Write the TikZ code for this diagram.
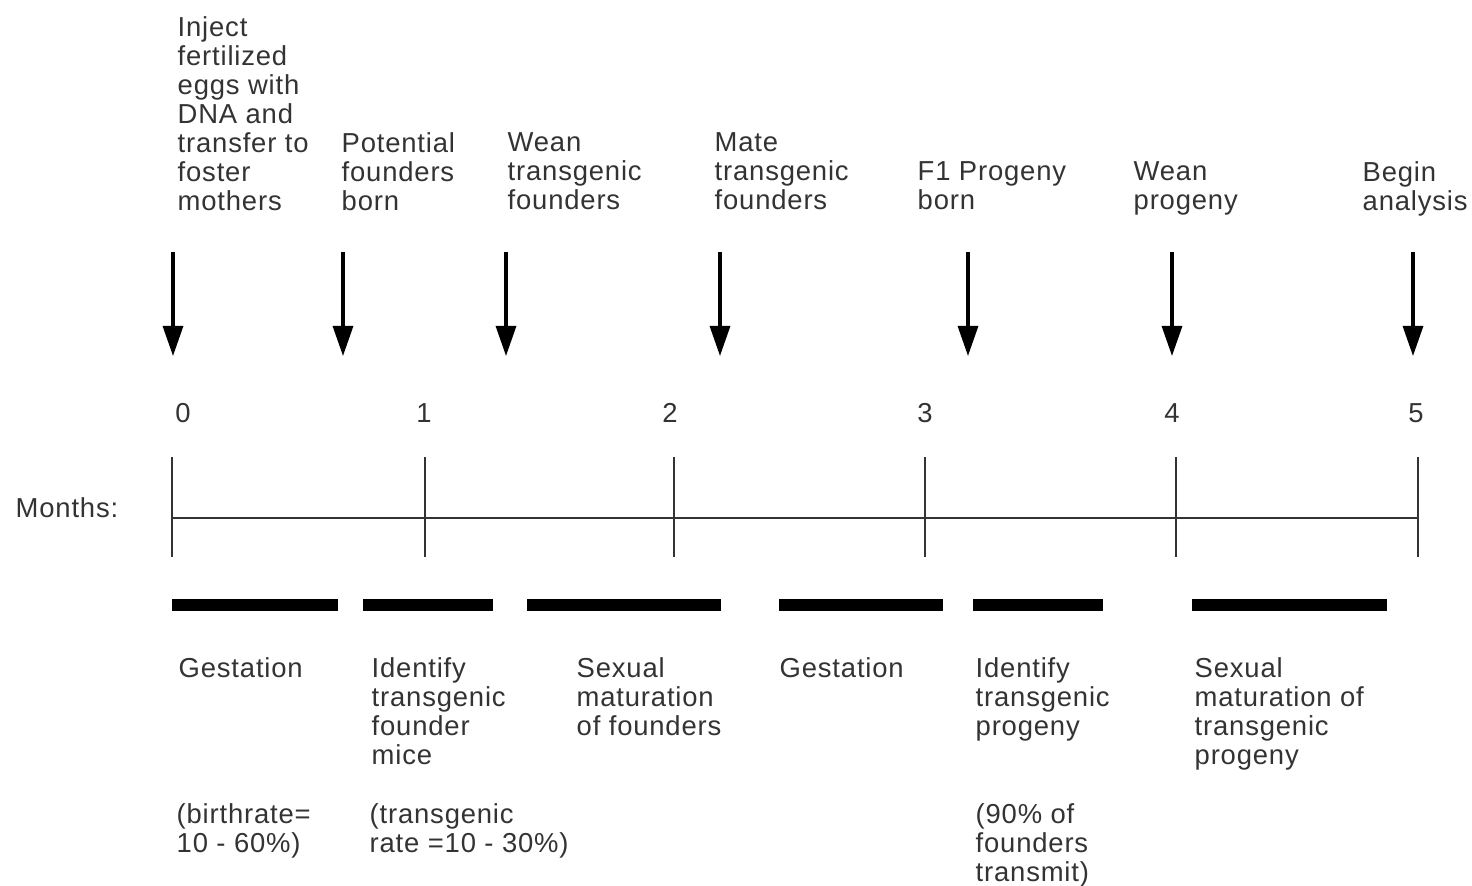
\documentclass[tikz,border=0pt]{standalone}
\usepackage{fontspec}
\setmainfont{Liberation Sans}[LetterSpace=3]
\usetikzlibrary{arrows.meta}
\definecolor{ink}{gray}{0.2}
\tikzset{
  lbl/.style={anchor=north west, inner sep=0pt, align=left, text=ink,
    font=\fontsize{7.8}{8.25}\selectfont},
  num/.style={anchor=center, inner sep=0pt, text=ink, font=\fontsize{7.8}{8.25}\selectfont},
  evarrow/.style={line width=0.9pt, -{Triangle[length=0.3cm, width=0.2cm]}},
  axis/.style={line width=0.8pt, draw=ink},
  tick/.style={line width=0.8pt, draw=ink},
  phase/.style={line width=3.4pt, line cap=butt}
}
\begin{document}
\begin{tikzpicture}[x=0.01cm, y=-0.01cm]
\useasboundingbox (0,0) rectangle (1472,886);
% top labels
\node[lbl] (t0) at (177,16) {Inject\\fertilized\\eggs with\\DNA and\\transfer to\\foster\\mothers};
\node[lbl] (t1) at (341,132) {Potential\\founders\\born};
\node[lbl] (t2) at (507,132) {Wean\\transgenic\\founders};
\node[lbl] (t3) at (714,132) {Mate\\transgenic\\founders};
\node[lbl] (t4) at (917,161) {F1 Progeny\\born};
\node[lbl] (t5) at (1133,161) {Wean\\progeny};
\node[lbl] (t6) at (1362,161) {Begin\\analysis};
% arrows
\foreach \i/\x in {0/173,1/343,2/506,3/720,4/968,5/1172,6/1413}{
  \coordinate (as\i) at (\x,252);
  \coordinate (ae\i) at (\x,356);
  \draw[evarrow] (as\i) -- (ae\i);
}
% month numbers and ticks
\foreach \i/\x/\nx in {0/172/183,1/425/424,2/674/670,3/925/925,4/1176/1172,5/1418/1416}{
  \node[num] (n\i) at (\nx,413) {\i};
  \coordinate (tt\i) at (\x,457);
  \coordinate (tb\i) at (\x,557);
  \coordinate (m\i) at (\x,518);
  \draw[tick] (tt\i) -- (tb\i);
}
\draw[axis] (m0) -- (m5);
\node[lbl, anchor=west] (months) at (15,508) {Months:};
% phase bars
\foreach \i/\a/\b in {0/172/338,1/363/493,2/527/721,3/779/943,4/973/1103,5/1192/1387}{
  \coordinate (ps\i) at (\a,605);
  \coordinate (pe\i) at (\b,605);
  \draw[phase] (ps\i) -- (pe\i);
}
% bottom labels
\node[lbl] (b0) at (178,657) {Gestation};
\node[lbl] (b1) at (371,657) {Identify\\transgenic\\founder\\mice};
\node[lbl] (b2) at (576,657) {Sexual\\maturation\\of founders};
\node[lbl] (b3) at (779,657) {Gestation};
\node[lbl] (b4) at (975,657) {Identify\\transgenic\\progeny};
\node[lbl] (b5) at (1194,657) {Sexual\\maturation of\\transgenic\\progeny};
\node[lbl] (c0) at (176,803) {(birthrate=\\10 - 60\%)};
\node[lbl] (c1) at (369,803) {(transgenic\\rate =10 - 30\%)};
\node[lbl] (c4) at (975,803) {(90\% of\\founders\\transmit)};
\end{tikzpicture}
\end{document}
